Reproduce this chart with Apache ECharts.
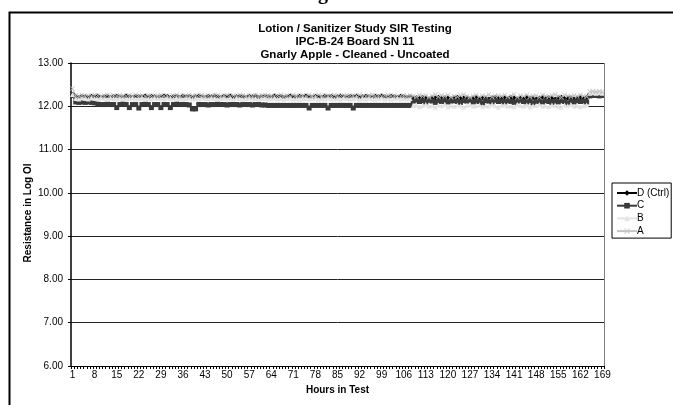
<!DOCTYPE html>
<html>
<head>
<meta charset="utf-8">
<script src="https://cdn.jsdelivr.net/npm/echarts@6/dist/echarts.min.js"></script>
<style>html,body{margin:0;padding:0;background:#fff;}#c{width:673px;height:405px;}</style>
</head>
<body>
<div id="c"></div>
<script>
var hours = [1,2,3,4,5,6,7,8,9,10,11,12,13,14,15,16,17,18,19,20,21,22,23,24,25,26,27,28,29,30,31,32,33,34,35,36,37,38,39,40,41,42,43,44,45,46,47,48,49,50,51,52,53,54,55,56,57,58,59,60,61,62,63,64,65,66,67,68,69,70,71,72,73,74,75,76,77,78,79,80,81,82,83,84,85,86,87,88,89,90,91,92,93,94,95,96,97,98,99,100,101,102,103,104,105,106,107,108,109,110,111,112,113,114,115,116,117,118,119,120,121,122,123,124,125,126,127,128,129,130,131,132,133,134,135,136,137,138,139,140,141,142,143,144,145,146,147,148,149,150,151,152,153,154,155,156,157,158,159,160,161,162,163,164,165,166,167,168,169];

var seriesNames = ['D (Ctrl)', 'C', 'B', 'A'];

var dCtrl = [12.28,
 12.22,12.21,12.23,12.22,12.21,12.23,12.22,12.24,12.21,12.22,12.23,12.21,12.22,
 12.23,12.22,12.21,12.24,12.22,12.21,12.23,12.22,12.22,12.24,12.21,12.23,12.22,12.21,
 12.22,12.24,12.23,12.21,12.22,12.23,12.21,12.24,12.22,12.23,12.21,12.22,12.24,12.22,
 12.21,12.23,12.22,12.24,12.22,12.21,12.23,12.22,12.24,12.21,12.22,12.23,12.22,12.21,
 12.23,12.22,12.24,12.21,12.22,12.23,12.22,12.21,12.24,12.22,12.23,12.21,12.22,12.24,
 12.22,12.21,12.23,12.22,12.24,12.22,12.21,12.23,12.22,12.21,12.24,12.22,12.23,12.21,
 12.22,12.24,12.22,12.21,12.23,12.22,12.24,12.21,12.22,12.23,12.22,12.21,12.23,12.22,
 12.24,12.22,12.21,12.23,12.22,12.21,12.23,12.22,12.21,12.22,
 12.19,12.20,12.18,12.21,12.19,12.17,12.20,12.19,12.21,12.18,12.20,12.19,12.17,12.20,
 12.21,12.18,12.19,12.20,12.17,12.19,12.21,12.18,12.20,12.19,12.17,12.20,12.21,12.18,
 12.19,12.20,12.18,12.21,12.19,12.17,12.20,12.18,12.21,12.19,12.20,12.17,12.19,12.21,
 12.18,12.20,12.19,12.17,12.20,12.21,12.18,12.19,12.20,12.17,12.19,12.21,12.18,12.20,
 12.27,12.28,12.28,12.27,12.28];

var seriesC = [12.25,
 12.10,12.09,12.10,12.09,12.10,12.09,12.08,
 12.05,12.04,12.04,12.05,12.04,12.04,
 11.97,12.04,12.05,12.04,11.97,12.04,12.04,11.96,12.04,12.05,12.04,11.97,12.04,12.04,
 11.97,12.04,12.04,11.97,12.04,12.05,12.04,12.04,12.04,12.03,11.94,11.94,12.04,12.04,
 12.04,12.03,12.04,12.04,12.05,12.04,12.04,12.03,12.04,12.04,12.04,12.03,12.04,12.04,
 12.04,12.03,12.04,12.04,12.03,12.03,12.02,12.02,12.02,12.02,12.02,12.02,12.02,12.02,
 12.02,12.02,12.02,12.02,12.02,11.96,12.02,12.02,12.02,12.02,12.02,11.96,12.02,12.02,
 12.02,12.02,12.02,12.02,12.02,11.96,12.02,12.02,12.02,12.02,12.02,12.02,12.02,12.02,
 12.02,12.02,12.02,12.02,12.02,12.02,12.02,12.02,12.02,12.02,
 12.12,12.14,12.11,12.13,12.10,12.14,12.12,12.09,12.13,12.11,12.14,12.10,12.12,12.13,
 12.11,12.09,12.13,12.12,12.14,12.10,12.12,12.11,12.08,12.13,12.12,12.10,12.14,12.11,
 12.12,12.10,12.13,12.11,12.09,12.12,12.14,12.11,12.10,12.13,12.08,12.11,12.12,12.10,
 12.13,12.11,12.09,12.12,12.10,12.13,12.11,12.08,12.12,12.10,12.13,12.11,12.12,12.10,
 12.24,12.25,12.25,12.24,12.25];

var seriesB = [12.27,
 12.18,12.17,12.19,12.18,12.17,12.19,12.18,12.17,12.19,12.18,12.16,12.19,12.18,
 12.17,12.19,12.18,12.16,12.18,12.19,12.17,12.18,12.19,12.16,12.18,12.17,12.19,12.18,
 12.18,12.16,12.19,12.18,12.17,12.19,12.18,12.16,12.18,12.19,12.17,12.18,12.16,12.19,
 12.18,12.17,12.19,12.18,12.16,12.18,12.19,12.17,12.18,12.16,12.19,12.18,12.17,12.18,
 12.19,12.17,12.18,12.16,12.18,12.19,12.17,12.18,12.19,12.17,12.18,12.16,12.18,12.19,
 12.17,12.18,12.16,12.19,12.18,12.17,12.18,12.19,12.16,12.18,12.17,12.19,12.18,12.17,
 12.18,12.16,12.19,12.18,12.17,12.18,12.19,12.16,12.18,12.17,12.19,12.18,12.17,12.18,
 12.19,12.17,12.18,12.16,12.18,12.19,12.17,12.18,12.17,12.18,
 12.01,12.03,11.99,12.02,12.04,12.00,12.02,11.98,12.03,12.01,12.04,11.99,12.02,12.00,
 12.03,12.01,11.98,12.02,12.04,12.00,12.01,12.03,11.99,12.02,12.00,12.04,12.01,11.98,
 12.02,12.03,12.00,12.01,11.99,12.04,12.02,12.00,12.03,11.98,12.01,12.02,12.04,12.00,
 12.01,11.99,12.03,12.02,12.00,11.98,12.03,12.01,12.04,12.00,12.02,11.99,12.01,12.03,
 12.30,12.31,12.30,12.31,12.30];

var seriesA = [12.41,
 12.25,12.24,12.26,12.23,12.25,12.24,12.26,12.25,12.23,12.25,12.26,12.24,12.25,
 12.24,12.26,12.25,12.23,12.25,12.24,12.26,12.25,12.24,12.23,12.26,12.25,12.24,12.25,
 12.26,12.24,12.25,12.23,12.25,12.26,12.24,12.25,12.23,12.26,12.25,12.24,12.25,12.26,
 12.24,12.25,12.23,12.26,12.25,12.24,12.25,12.26,12.23,12.25,12.24,12.26,12.25,12.24,
 12.25,12.23,12.26,12.24,12.25,12.26,12.24,12.25,12.23,12.25,12.26,12.24,12.25,12.23,
 12.26,12.25,12.24,12.25,12.23,12.26,12.24,12.25,12.26,12.24,12.25,12.23,12.25,12.26,
 12.24,12.25,12.23,12.26,12.25,12.24,12.25,12.26,12.24,12.23,12.25,12.26,12.24,12.25,
 12.23,12.25,12.26,12.24,12.25,12.23,12.24,12.25,12.24,12.25,
 12.24,12.22,12.26,12.23,12.25,12.21,12.24,12.27,12.22,12.25,12.23,12.26,12.21,12.24,
 12.22,12.25,12.27,12.23,12.21,12.24,12.26,12.22,12.25,12.23,12.27,12.21,12.24,12.25,
 12.23,12.26,12.22,12.24,12.27,12.21,12.25,12.23,12.26,12.22,12.24,12.25,12.21,12.26,
 12.24,12.22,12.25,12.27,12.23,12.21,12.26,12.24,12.22,12.25,12.23,12.26,12.24,12.22,
 12.34,12.35,12.34,12.35,12.34];

var titleLines = ['Lotion / Sanitizer Study SIR Testing', 'IPC-B-24 Board SN 11', 'Gnarly Apple - Cleaned - Uncoated'];
var yTitle = 'Resistance in Log Ol';
var xTitle = 'Hours in Test';

var FONT = 'Liberation Sans, Arial, sans-serif';
var xSym = 'path://M0,1L1,0L5,4L9,0L10,1L6,5L10,9L9,10L5,6L1,10L0,9L4,5Z';

var chart = echarts.init(document.getElementById('c'), null, {renderer: 'canvas'});

function mk(name, data, color, symbol, size, lw) {
  return {
    name: name, type: 'line', data: data, symbol: symbol, symbolSize: size,
    showSymbol: true, showAllSymbol: true,
    lineStyle: {color: color, width: lw},
    itemStyle: {color: color, borderWidth: 0},
    emphasis: {disabled: true}
  };
}

var titleGraphics = titleLines.map(function (t, i) {
  return {
    type: 'text', x: 355, y: 29 + i * 13, silent: true,
    style: {text: t, textAlign: 'center', textVerticalAlign: 'middle',
            font: 'bold 11.5px Liberation Sans, Arial, sans-serif', fill: '#000'}
  };
});

chart.setOption({
  animation: false,
  backgroundColor: '#fff',
  graphic: [
    {type: 'rect', left: 7, top: 10, shape: {width: 668, height: 400}, style: {fill: null, stroke: '#000', lineWidth: 2}, silent: true},
    {type: 'text', left: 318, top: -16, silent: true, style: {text: 'g', font: 'bold 20px Liberation Serif, Times New Roman, serif', fill: '#000'}},
    {type: 'text', x: 28, y: 213, rotation: Math.PI / 2, silent: true,
     style: {text: yTitle, textAlign: 'center', textVerticalAlign: 'middle',
             font: 'bold 10px Liberation Sans, Arial, sans-serif', fill: '#000'}}
  ].concat(titleGraphics),
  legend: {
    orient: 'vertical', left: 612, top: 183,
    data: seriesNames,
    backgroundColor: '#fff', borderColor: '#000', borderWidth: 1,
    padding: [4, 2, 1, 4], itemGap: 0.7, itemWidth: 20, itemHeight: 7,
    textStyle: {fontFamily: FONT, fontSize: 10, lineHeight: 12, color: '#000', padding: [0, 0, 0, -5]}
  },
  grid: {left: 71, right: 69, top: 63, bottom: 39, containLabel: false},
  xAxis: {
    type: 'category', data: hours, boundaryGap: true,
    name: xTitle, nameLocation: 'middle', nameGap: 19,
    nameTextStyle: {fontFamily: FONT, fontSize: 10, fontWeight: 'bold', color: '#000'},
    axisLine: {show: true, lineStyle: {color: '#000', width: 1}},
    axisTick: {show: true, interval: 0, length: 3, lineStyle: {color: '#000'}},
    axisLabel: {interval: 6, margin: 4, fontFamily: FONT, fontSize: 10, color: '#000'},
    splitLine: {show: false}
  },
  yAxis: {
    type: 'value', min: 6, max: 13, interval: 1,
    axisLine: {show: true, lineStyle: {color: '#000', width: 1.5}},
    axisTick: {show: true, length: 3, lineStyle: {color: '#000'}},
    axisLabel: {margin: 8, fontFamily: FONT, fontSize: 10, color: '#000', formatter: function (v) { return v.toFixed(2); }},
    splitLine: {show: true, lineStyle: {color: '#222', width: 1}}
  },
  series: [
    mk(seriesNames[0], dCtrl, '#000000', 'diamond', 5, 1),
    mk(seriesNames[1], seriesC, '#3a3a3a', 'rect', 5, 1.5),
    mk(seriesNames[2], seriesB, '#e4e4e4', 'triangle', 5, 1),
    mk(seriesNames[3], seriesA, '#c4c4c4', xSym, 5, 1)
  ]
});

chart.getZr().add(new echarts.graphic.Line({
  shape: {x1: 604.5, y1: 63, x2: 604.5, y2: 366},
  style: {stroke: '#808080', lineWidth: 1}, silent: true, z: 10
}));
</script>
</body>
</html>
